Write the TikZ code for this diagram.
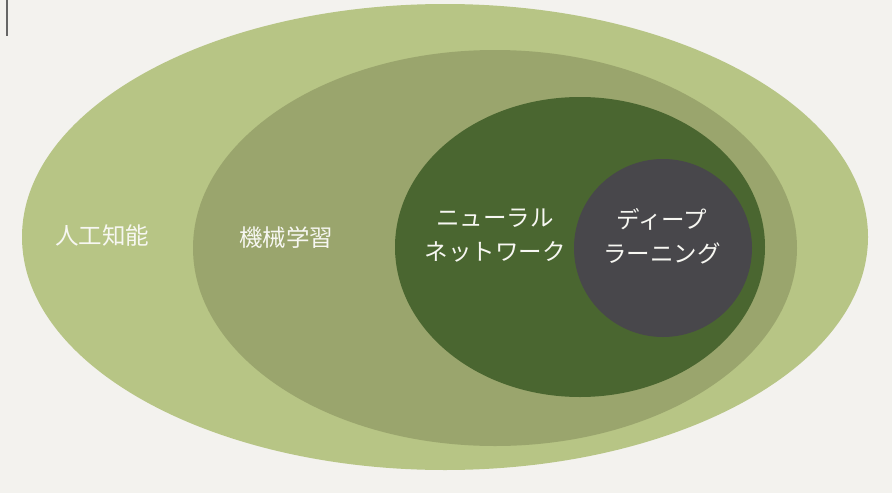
\documentclass[tikz,border=0pt]{standalone}
\usepackage{fontspec}
\newfontfamily\jp{Noto Sans CJK JP}
\definecolor{bg}{HTML}{F3F2EE}
\definecolor{ai}{HTML}{B7C585}
\definecolor{ml}{HTML}{9AA56D}
\definecolor{nn}{HTML}{4A6630}
\definecolor{dl}{HTML}{48474B}
\definecolor{txt}{HTML}{F7F7F2}
\tikzset{lbl/.style={text=txt,font=\jp\fontsize{23.5}{34}\selectfont,align=center,inner sep=0pt}}
\begin{document}
\begin{tikzpicture}[x=1pt,y=-1pt]
\fill[bg] (0,0) rectangle (892,493);
\useasboundingbox (0,0) rectangle (892,493);
\draw[gray!80!black,line width=1.2pt] (7,0) -- (7,36);
\fill[ai] (445,237) ellipse [x radius=423,y radius=233];
\fill[ml] (495,248) ellipse [x radius=302,y radius=198];
\fill[nn] (580,247) ellipse [x radius=185,y radius=150];
\fill[dl] (663,248) circle [radius=89];
\node[lbl] (ai) at (102,236) {人工知能};
\node[lbl] (ml) at (286,238) {機械学習};
\node[lbl] (nn) at (495,236) {ニューラル\\ネットワーク};
\node[lbl] (dl) at (662,236) {ディープ\\ラーニング};
\end{tikzpicture}
\end{document}
